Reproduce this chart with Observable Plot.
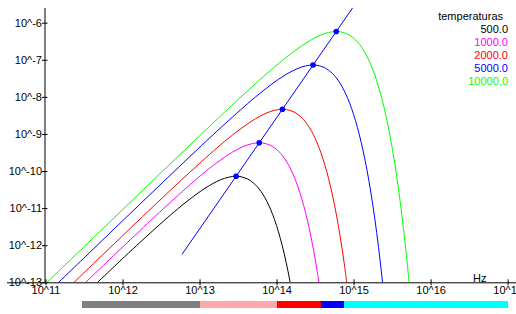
<!DOCTYPE html>
<html><head><meta charset="utf-8">
<script src="https://cdn.jsdelivr.net/npm/d3@7"></script>
<script src="https://cdn.jsdelivr.net/npm/@observablehq/plot@0.6"></script>
<style>
body{margin:0;background:#fff;}
#wrap{position:relative;width:516px;height:314px;font-family:"Liberation Sans",Arial,sans-serif;}
#legend{position:absolute;top:10px;right:8px;font-size:11px;line-height:13px;text-align:right;}
#chart svg{display:block;}
</style></head><body><div id="wrap"><div id="chart"></div><div id="legend"></div></div>
<script>
// temperatures (K) and their colours
const temps = [500, 1000, 2000, 5000, 10000];
const colors = ["#000000", "#ff00ff", "#ff0000", "#0000ff", "#00ff00"];

// curves: [log10 frequency (Hz), log10 value]
const curve500 = [[11.518,-13.287],[12.018,-12.302],[12.218,-11.915],[12.418,-11.536],[12.618,-11.169],[12.718,-10.993],[12.818,-10.824],[12.918,-10.664],[13.018,-10.515],[13.118,-10.382],[13.218,-10.269],[13.318,-10.183],[13.418,-10.134],[13.468,-10.127],[13.518,-10.135],[13.618,-10.201],[13.718,-10.354],[13.768,-10.471],[13.818,-10.619],[13.868,-10.804],[13.918,-11.030],[13.968,-11.301],[14.018,-11.623],[14.068,-12.003],[14.118,-12.448],[14.168,-12.965],[14.218,-13.563]];
const curve1000 = [[11.319,-13.379],[11.819,-12.384],[12.319,-11.399],[12.519,-11.012],[12.719,-10.633],[12.919,-10.266],[13.019,-10.090],[13.119,-9.921],[13.219,-9.761],[13.319,-9.612],[13.419,-9.479],[13.519,-9.366],[13.619,-9.280],[13.719,-9.231],[13.769,-9.224],[13.819,-9.232],[13.919,-9.298],[14.019,-9.451],[14.069,-9.568],[14.119,-9.716],[14.169,-9.901],[14.219,-10.127],[14.269,-10.398],[14.319,-10.720],[14.369,-11.100],[14.419,-11.545],[14.469,-12.062],[14.519,-12.660],[14.569,-13.350]];
const curve2000 = [[11.120,-13.475],[11.620,-12.476],[12.120,-11.481],[12.620,-10.496],[12.820,-10.109],[13.020,-9.730],[13.220,-9.363],[13.320,-9.187],[13.420,-9.018],[13.520,-8.858],[13.620,-8.709],[13.720,-8.576],[13.820,-8.463],[13.920,-8.377],[14.020,-8.328],[14.070,-8.321],[14.120,-8.329],[14.220,-8.395],[14.320,-8.548],[14.370,-8.665],[14.420,-8.813],[14.470,-8.998],[14.520,-9.224],[14.570,-9.495],[14.620,-9.817],[14.670,-10.197],[14.720,-10.642],[14.770,-11.159],[14.820,-11.757],[14.870,-12.447],[14.920,-13.240]];
const curve5000 = [[11.018,-13.280],[11.518,-12.281],[12.018,-11.282],[12.518,-10.287],[13.018,-9.302],[13.218,-8.915],[13.418,-8.536],[13.618,-8.169],[13.718,-7.993],[13.818,-7.824],[13.918,-7.664],[14.018,-7.515],[14.118,-7.382],[14.218,-7.269],[14.318,-7.183],[14.418,-7.134],[14.468,-7.127],[14.518,-7.135],[14.618,-7.201],[14.718,-7.354],[14.768,-7.471],[14.818,-7.619],[14.868,-7.804],[14.918,-8.030],[14.968,-8.301],[15.018,-8.623],[15.068,-9.003],[15.118,-9.448],[15.168,-9.965],[15.218,-10.563],[15.268,-11.253],[15.318,-12.045],[15.368,-12.953],[15.418,-13.989]];
const curve10000 = [[10.819,-13.377],[11.319,-12.377],[11.819,-11.378],[12.319,-10.379],[12.819,-9.384],[13.319,-8.399],[13.519,-8.012],[13.719,-7.633],[13.919,-7.266],[14.019,-7.090],[14.119,-6.921],[14.219,-6.761],[14.319,-6.612],[14.419,-6.479],[14.519,-6.366],[14.619,-6.280],[14.719,-6.231],[14.769,-6.224],[14.819,-6.232],[14.919,-6.298],[15.019,-6.451],[15.069,-6.568],[15.119,-6.716],[15.169,-6.901],[15.219,-7.127],[15.269,-7.398],[15.319,-7.720],[15.369,-8.100],[15.419,-8.545],[15.469,-9.062],[15.519,-9.660],[15.569,-10.350],[15.619,-11.142],[15.669,-12.050],[15.719,-13.086]];
const curves = [curve500, curve1000, curve2000, curve5000, curve10000];

// peak points and the line through them
const peaks = [[13.468,-10.127],[13.769,-9.224],[14.070,-8.321],[14.468,-7.127],[14.769,-6.224]];
const wien = [[12.769,-12.224],[15.070,-5.321]];

// tick exponents
const xTickExps = [11, 12, 13, 14, 15, 16, 17];
const yTickExps = [-13, -12, -11, -10, -9, -8, -7, -6];

// spectrum bands (log10 Hz)
const bandFrom = [11.477, 13, 14, 14.574, 14.875];
const bandTo = [13, 14, 14.574, 14.875, 17];
const bandColors = ["#808080", "#ffa8a8", "#ff0000", "#0000ff", "#00ffff"];

const pt = ([a, b]) => ({x: 10 ** a, y: 10 ** b});
const bands = bandFrom.map((f, i) => ({x1: 10 ** f, x2: 10 ** bandTo[i], color: bandColors[i]}));
const xTicks = xTickExps.map(e => ({v: 10 ** e, label: "10^" + e}));
const yTicks = yTickExps.map(e => ({v: 10 ** e, label: "10^" + e}));

const W = 516, H = 314, mL = 45.5, mR = 8.4, mT = 8, mB = 31.7;
const frameW = W - mL - mR, frameH = H - mT - mB;

const chart = Plot.plot({
  width: W, height: H,
  marginLeft: mL, marginRight: mR, marginTop: mT, marginBottom: mB,
  x: {type: "log", domain: [1e11, 1e17], axis: null},
  y: {type: "log", domain: [1e-13, 10 ** -5.604], axis: null},
  style: {fontFamily: "'Liberation Sans', Arial, sans-serif", fontSize: "11px", background: "white", color: "black", overflow: "visible"},
  marks: [
    Plot.rect(bands, {x1: "x1", x2: "x2", fill: "color", insetTop: 301 - mT, insetBottom: (H - mB) - 308.3, shapeRendering: "crispEdges"}),
    Plot.ruleY([1e-13], {stroke: "black", insetLeft: -(mL - 7), insetRight: -mR}),
    Plot.ruleX([1e11], {stroke: "black", dx: -1}),
    Plot.ruleX(xTicks, {x: "v", stroke: "black", insetTop: frameH - 3, insetBottom: -3}),
    Plot.ruleY(yTicks, {y: "v", stroke: "black", insetLeft: -3.5, insetRight: frameW - 2}),
    Plot.text(xTicks, {x: "v", text: "label", frameAnchor: "bottom", lineAnchor: "middle", dy: 8, fill: "black"}),
    Plot.text(yTicks, {y: "v", text: "label", frameAnchor: "left", textAnchor: "end", dx: -4, fill: "black"}),
    Plot.text(["Hz"], {frameAnchor: "bottom-right", textAnchor: "end", lineAnchor: "bottom", dx: -21.6, dy: -1, fill: "black"}),
    ...curves.map((c, i) => Plot.line(c.map(pt), {x: "x", y: "y", stroke: colors[i], strokeWidth: 1, curve: "catmull-rom", clip: true})),
    Plot.line(wien.map(pt), {x: "x", y: "y", stroke: "#0000ff", strokeWidth: 1, clip: true}),
    Plot.dot(peaks.map(pt), {x: "x", y: "y", r: 2.8, fill: "#0000ff", stroke: "none"})
  ]
});
document.getElementById("chart").appendChild(chart);

document.getElementById("legend").innerHTML =
  `<div style="padding-right:5px">temperaturas</div>` +
  temps.map((t, i) => `<div style="color:${colors[i]}">${t.toFixed(1)}</div>`).join("");
</script></body></html>
